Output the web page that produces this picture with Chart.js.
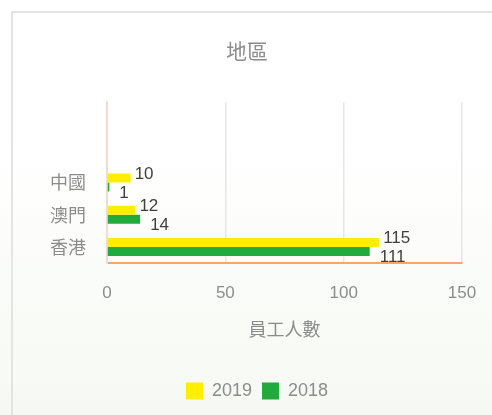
<!DOCTYPE html>
<html>
<head>
<meta charset="utf-8">
<script src="https://cdn.jsdelivr.net/npm/chart.js@4"></script>
<style>
  html, body { margin: 0; padding: 0; }
  body { width: 492px; height: 415px; overflow: hidden; position: relative;
         background: linear-gradient(to bottom, #ffffff 0%, #ffffff 35%, #f6f9f3 100%); }
  #frame { position: absolute; left: 11px; top: 11px; width: 500px; height: 420px;
           border-left: 2px solid #e4e4e4; border-top: 2px solid #e4e4e4; }
  #wrap { position: absolute; left: 0; top: 0; width: 492px; height: 415px; }
</style>
</head>
<body>
<div id="frame"></div>
<div id="wrap"><canvas id="c" width="492" height="415"></canvas></div>
<script>
const categories = ['', '', '中國', '澳門', '香港'];
const series2019 = [null, null, 10, 12, 115];
const series2018 = [null, null, 1, 14, 111];
const seriesNames = ['2019', '2018'];
const xTicks = [0, 50, 100, 150];

const CJK = '"Noto Sans CJK TC", "Noto Sans CJK SC", sans-serif';
const LAT = '"Liberation Sans", Arial, sans-serif';

const labelPlugin = {
  id: 'barLabels',
  afterLayout(chart) {
    if (chart.legend) { chart.legend.left += 10; chart.legend.right += 10; }
  },
  afterDatasetsDraw(chart) {
    const ctx = chart.ctx;
    ctx.save();
    ctx.font = '17px ' + LAT;
    ctx.fillStyle = '#3f3f3f';
    ctx.textAlign = 'left';
    ctx.textBaseline = 'middle';
    chart.data.datasets.forEach((ds, di) => {
      const meta = chart.getDatasetMeta(di);
      meta.data.forEach((el, i) => {
        const v = ds.data[i];
        if (v === null || v === undefined) return;
        const dx = di === 0 ? 4 : 10;
        const dy = di === 0 ? -4 : 6;
        ctx.fillText(String(v), el.x + dx, el.y + dy);
      });
    });
    ctx.restore();
  }
};

new Chart(document.getElementById('c'), {
  type: 'bar',
  data: {
    labels: categories,
    datasets: [
      { label: seriesNames[0], data: series2019, backgroundColor: '#ffee00', categoryPercentage: 0.56, barPercentage: 1.0 },
      { label: seriesNames[1], data: series2018, backgroundColor: '#22aa3c', categoryPercentage: 0.56, barPercentage: 1.0 }
    ]
  },
  options: {
    indexAxis: 'y',
    responsive: false,
    animation: false,
    devicePixelRatio: 1,
    layout: { padding: { left: 32, right: 30, top: 0, bottom: 5 } },
    plugins: {
      title: { display: true, text: '地區', color: '#8c8c8c',
               font: { family: CJK, size: 21, weight: 'normal' },
               padding: { top: 38, bottom: 39 } },
      legend: { position: 'bottom',
                labels: { boxWidth: 17, boxHeight: 17, color: '#8c8c8c', padding: 10,
                          font: { family: LAT, size: 18 } } },
      tooltip: { enabled: false }
    },
    scales: {
      x: {
        type: 'linear', min: 0, max: 150,
        afterBuildTicks(scale) { scale.ticks = xTicks.map(v => ({ value: v })); },
        afterFit(scale) { scale.height = 109; scale.paddingLeft = 0; scale.paddingRight = 0; },
        ticks: { color: '#8c8c8c', font: { family: LAT, size: 17 }, padding: 20 },
        grid: { color: (c) => c.tick && c.tick.value === 0 ? 'rgba(0,0,0,0)' : '#e6e6e6', drawTicks: false, lineWidth: 1.5 },
        border: { color: '#efa77a', width: 2 },
        title: { display: true, text: '員工人數', color: '#8c8c8c',
                 font: { family: CJK, size: 18 }, padding: { top: 10, bottom: 32 } }
      },
      y: {
        type: 'category',
        afterFit(scale) { scale.width = 75; scale.paddingTop = 0; scale.paddingBottom = 0; },
        ticks: { color: '#8c8c8c', font: { family: CJK, size: 18 }, padding: 21 },
        grid: { display: false, drawTicks: false },
        border: { color: '#f0ddd0', width: 2 }
      }
    }
  },
  plugins: [labelPlugin]
});
</script>
</body>
</html>
